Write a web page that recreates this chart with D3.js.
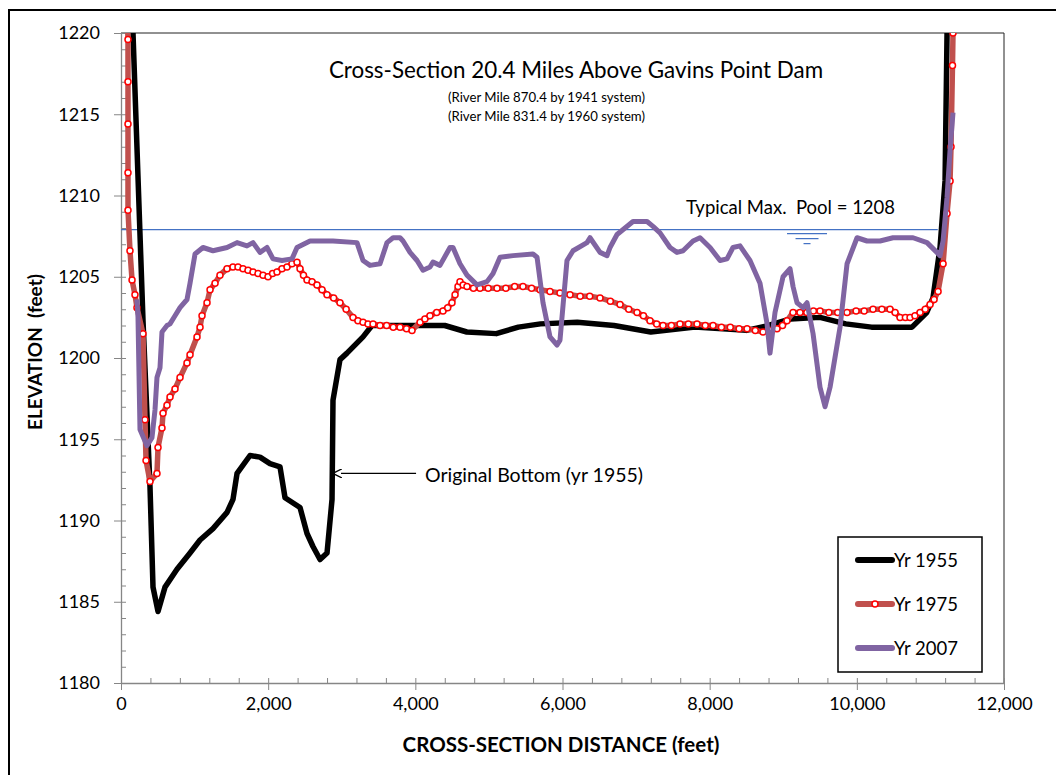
<!DOCTYPE html>
<html>
<head>
<meta charset="utf-8">
<script src="https://cdn.jsdelivr.net/npm/d3@7"></script>
<style>
  body { margin: 0; background: #fff; }
  text { font-family: Lato, "Open Sans", sans-serif; fill: #000; white-space: pre; }
</style>
</head>
<body>
<script>
// series (distance ft, elevation ft)
var yr1955 = [[100,1222],[163,1220],[299,1202.3],[394,1192.1],[435,1185.9],[503,1184.4],[598,1185.9],[761,1187.0],[938,1188.0],[1074,1188.8],[1250,1189.5],[1441,1190.5],[1522,1191.3],[1577,1192.9],[1753,1194.0],[1889,1193.9],[2025,1193.5],[2161,1193.3],[2229,1191.4],[2433,1190.8],[2528,1189.2],[2609,1188.4],[2705,1187.6],[2800,1188.0],[2868,1191.3],[2881,1197.4],[2976,1199.9],[3071,1200.3],[3289,1201.3],[3411,1202.0],[4400,1202.0],[4700,1201.6],[5100,1201.5],[5400,1201.9],[5700,1202.1],[6200,1202.2],[6700,1202.0],[7200,1201.6],[7800,1201.9],[8500,1201.7],[8800,1202.0],[9100,1202.4],[9500,1202.5],[9850,1202.1],[10200,1201.9],[10750,1201.9],[10950,1202.8],[11035,1203.7],[11131,1206.8],[11199,1210.9],[11226,1220],[11260,1225]];

var yr1975 = [[80,1222],[95,1219.6],[95,1217],[95,1214.4],[95,1211.4],[95,1209.1],[122,1206.6],[150,1204.8],[190,1203.9],[217,1203.1],[299,1201.5],[326,1196.2],[340,1193.7],[394,1192.4],[489,1192.9],[503,1194.5],[557,1195.7],[571,1196.6],[625,1197.1],[666,1197.6],[734,1198.1],[802,1198.8],[897,1199.7],[938,1200.2],[1033,1201.3],[1074,1201.9],[1101,1202.6],[1169,1203.4],[1210,1204.2],[1278,1204.6],[1345,1205.1],[1441,1205.5],[1522,1205.6],[1590,1205.6],[1658,1205.5],[1726,1205.4],[1794,1205.3],[1862,1205.2],[1930,1205.1],[1998,1205.0],[2060,1205.2],[2120,1205.3],[2188,1205.5],[2256,1205.6],[2324,1205.8],[2392,1205.9],[2433,1205.5],[2480,1205.1],[2528,1204.8],[2596,1204.7],[2664,1204.5],[2732,1204.2],[2800,1203.9],[2890,1203.7],[2976,1203.4],[3060,1203.0],[3153,1202.5],[3220,1202.3],[3289,1202.2],[3357,1202.1],[3425,1202.1],[3520,1202.0],[3610,1202.0],[3700,1201.9],[3792,1201.9],[3880,1201.8],[3955,1201.7],[4064,1202.2],[4130,1202.4],[4199,1202.6],[4290,1202.8],[4376,1202.9],[4440,1203.1],[4498,1203.4],[4540,1203.9],[4580,1204.4],[4607,1204.7],[4650,1204.5],[4702,1204.4],[4790,1204.3],[4879,1204.3],[4990,1204.3],[5110,1204.3],[5230,1204.3],[5350,1204.4],[5463,1204.4],[5580,1204.3],[5694,1204.2],[5830,1204.1],[5966,1204.0],[6102,1203.9],[6240,1203.8],[6370,1203.8],[6510,1203.7],[6650,1203.5],[6782,1203.3],[6900,1203.0],[7013,1202.8],[7100,1202.6],[7189,1202.3],[7280,1202.1],[7366,1202.0],[7480,1202.0],[7597,1202.1],[7710,1202.1],[7828,1202.1],[7940,1202.0],[8046,1202.0],[8160,1201.9],[8280,1201.9],[8400,1201.8],[8508,1201.8],[8620,1201.7],[8725,1201.6],[8830,1201.7],[8915,1201.8],[8990,1202.0],[9051,1202.3],[9133,1202.8],[9228,1202.8],[9320,1202.8],[9410,1202.9],[9500,1202.9],[9620,1202.8],[9740,1202.8],[9867,1202.8],[9990,1202.9],[10100,1202.9],[10220,1203.0],[10340,1203.0],[10451,1203.0],[10520,1202.8],[10587,1202.5],[10660,1202.5],[10723,1202.5],[10790,1202.6],[10859,1202.8],[10930,1203.0],[10995,1203.3],[11050,1203.6],[11104,1204.1],[11172,1205.8],[11226,1208.9],[11267,1210.9],[11280,1213],[11300,1218],[11307,1220],[11335,1222]];

var yr2007 = [[217,1203.6],[231,1202.5],[258,1195.6],[353,1194.6],[421,1195.1],[462,1196.8],[489,1198.8],[530,1199.4],[557,1201.6],[625,1202.0],[666,1202.1],[734,1202.6],[802,1203.1],[897,1203.6],[938,1204.6],[1006,1206.4],[1114,1206.8],[1250,1206.6],[1441,1206.8],[1577,1207.1],[1712,1206.9],[1794,1207.1],[1889,1206.5],[1984,1206.8],[2066,1206.1],[2188,1206.0],[2324,1206.1],[2392,1206.8],[2569,1207.2],[2881,1207.2],[3207,1207.1],[3289,1206.0],[3384,1205.7],[3520,1205.8],[3615,1207.1],[3697,1207.4],[3792,1207.4],[3833,1207.2],[3928,1206.5],[4023,1206.0],[4104,1205.4],[4199,1205.6],[4240,1205.9],[4335,1205.7],[4471,1206.8],[4512,1206.8],[4607,1205.8],[4702,1205.1],[4838,1204.5],[4974,1204.7],[5056,1205.2],[5151,1206.2],[5328,1206.3],[5599,1206.4],[5654,1206.2],[5735,1203.4],[5830,1201.3],[5926,1200.8],[5966,1201.1],[6061,1206.0],[6143,1206.6],[6333,1207.1],[6374,1207.4],[6510,1206.5],[6605,1206.3],[6646,1206.8],[6741,1207.6],[6958,1208.4],[7149,1208.4],[7230,1208.1],[7325,1207.7],[7461,1206.8],[7556,1206.5],[7638,1206.6],[7774,1207.2],[7869,1207.4],[8005,1206.8],[8141,1206.0],[8236,1206.1],[8317,1206.8],[8412,1206.9],[8548,1206.0],[8684,1204.6],[8780,1202.1],[8820,1200.3],[8888,1202.8],[8997,1205.0],[9092,1205.5],[9133,1204.4],[9187,1203.4],[9269,1203.1],[9323,1203.4],[9405,1201.5],[9500,1198.2],[9568,1197.0],[9636,1198.2],[9772,1201.9],[9867,1205.8],[10003,1207.4],[10139,1207.2],[10315,1207.2],[10492,1207.4],[10764,1207.4],[10954,1207.1],[11131,1206.3],[11172,1207.2],[11226,1209.9],[11267,1212.8],[11307,1215.1]];

var poolLine = [[0,1207.9],[11100,1207.9]];

var xTicks = [0,2000,4000,6000,8000,10000,12000];
var yTicks = [1180,1185,1190,1195,1200,1205,1210,1215,1220];
var legendNames = ["Yr 1955","Yr 1975","Yr 2007"];
var legendColors = ["#000000","#c0504d","#8064a2"];

//Width and height
var w = 1056;
var h = 775;

var x = d3.scaleLinear().domain([0,12000]).range([121,1004]);
var y = d3.scaleLinear().domain([1180,1220]).range([683,33]);

var svg = d3.select("body").append("svg")
            .attr("width", w)
            .attr("height", h);

//outer frame
svg.append("rect")
   .attr("x", 9).attr("y", 10)
   .attr("width", 1200).attr("height", 900)
   .attr("fill", "none").attr("stroke", "#000").attr("stroke-width", 2);

svg.append("defs").append("clipPath").attr("id", "plot")
   .append("rect")
   .attr("x", x(0)).attr("y", y(1220))
   .attr("width", x(12000) - x(0)).attr("height", y(1180) - y(1220));

//plot area border top / right
svg.append("path")
   .attr("d", "M" + x(0) + "," + y(1220) + "H" + x(12000) + "V" + y(1180))
   .attr("fill", "none").attr("stroke", "#222").attr("stroke-width", 1);

//minor ticks (inside)
var xMinor = d3.range(0, 12001, 400);
var yMinor = d3.range(1180, 1221, 1);

svg.append("g")
   .attr("transform", "translate(0," + y(1180) + ")")
   .call(d3.axisTop(x).tickValues(xMinor).tickSize(5).tickFormat(""))
   .call(function(g) { g.select(".domain").remove(); g.selectAll("line").attr("stroke", "#868686"); });

svg.append("g")
   .attr("transform", "translate(" + x(0) + ",0)")
   .call(d3.axisRight(y).tickValues(yMinor).tickSize(5).tickFormat(""))
   .call(function(g) { g.select(".domain").remove(); g.selectAll("line").attr("stroke", "#868686"); });

//major axes
var xAxis = svg.append("g")
   .attr("transform", "translate(0," + y(1180) + ")")
   .call(d3.axisBottom(x).tickValues(xTicks).tickSize(7).tickSizeOuter(0).tickPadding(7).tickFormat(d3.format(",")));

var yAxis = svg.append("g")
   .attr("transform", "translate(" + x(0) + ",0)")
   .call(d3.axisLeft(y).tickValues(yTicks).tickSize(7).tickSizeOuter(0).tickPadding(14).tickFormat(d3.format("d")));

[xAxis, yAxis].forEach(function(g) {
    g.select(".domain").attr("stroke", "#868686").attr("stroke-width", 1.3);
    g.selectAll("line").attr("stroke", "#868686");
    g.selectAll("text").style("font-size", "18px").attr("fill", "#000");
});

//axis titles
svg.append("text")
   .attr("x", 561).attr("y", 752)
   .attr("text-anchor", "middle")
   .style("font-size", "20.5px").style("font-weight", "bold")
   .text("CROSS-SECTION DISTANCE (feet)");

svg.append("text")
   .attr("transform", "translate(42,352) rotate(-90)")
   .attr("text-anchor", "middle")
   .style("font-size", "19px").style("font-weight", "bold")
   .text("ELEVATION  (feet)");

//titles
svg.append("text")
   .attr("x", 576).attr("y", 78)
   .attr("text-anchor", "middle")
   .style("font-size", "22.4px")
   .text("Cross-Section 20.4 Miles Above Gavins Point Dam");

svg.append("text")
   .attr("x", 448).attr("y", 102)
   .style("font-size", "13.2px")
   .text("(River Mile 870.4 by 1941 system)");

svg.append("text")
   .attr("x", 448).attr("y", 121)
   .style("font-size", "13.2px")
   .text("(River Mile 831.4 by 1960 system)");

var line = d3.line()
    .x(function(d) { return x(d[0]); })
    .y(function(d) { return y(d[1]); });

var plot = svg.append("g").attr("clip-path", "url(#plot)");

//pool line
plot.append("path")
    .datum(poolLine)
    .attr("d", line)
    .attr("fill", "none").attr("stroke", "#4472c4").attr("stroke-width", 1.2);

//water symbol
var wx = x(9323), wy = y(1207.9);
[[20, 4], [11.5, 9], [3.5, 14]].forEach(function(s) {
    svg.append("line")
       .attr("x1", wx - s[0]).attr("x2", wx + s[0])
       .attr("y1", wy + s[1]).attr("y2", wy + s[1])
       .attr("stroke", "#4472c4").attr("stroke-width", 1.2);
});

svg.append("text")
   .attr("x", x(7679)).attr("y", y(1208.85))
   .style("font-size", "18.5px")
   .text("Typical Max.  Pool = 1208");

//series
plot.append("path")
    .datum(yr1955)
    .attr("d", line)
    .attr("fill", "none").attr("stroke", "#000")
    .attr("stroke-width", 5.5).attr("stroke-linejoin", "round");

plot.append("path")
    .datum(yr1975)
    .attr("d", line)
    .attr("fill", "none").attr("stroke", "#c0504d")
    .attr("stroke-width", 5.5).attr("stroke-linejoin", "round");

plot.selectAll("circle.m75")
    .data(yr1975)
    .enter()
    .append("circle")
    .attr("class", "m75")
    .attr("cx", function(d) { return x(d[0]); })
    .attr("cy", function(d) { return y(d[1]); })
    .attr("r", 3)
    .attr("fill", "#fff").attr("stroke", "#ff0000").attr("stroke-width", 1.5);

plot.append("path")
    .datum(yr2007)
    .attr("d", line)
    .attr("fill", "none").attr("stroke", "#8064a2")
    .attr("stroke-width", 5).attr("stroke-linejoin", "round");

//annotation arrow
svg.append("defs").append("marker")
   .attr("id", "arrow")
   .attr("viewBox", "0 0 10 10")
   .attr("refX", 1).attr("refY", 5)
   .attr("markerWidth", 7).attr("markerHeight", 7)
   .attr("orient", "auto-start-reverse")
   .append("path")
   .attr("d", "M0,0L10,5L0,10")
   .attr("fill", "none").attr("stroke", "#000").attr("stroke-width", 1.5);

svg.append("line")
   .attr("x1", x(4010)).attr("y1", y(1192.9))
   .attr("x2", x(2990)).attr("y2", y(1192.9))
   .attr("stroke", "#000").attr("stroke-width", 1.3)
   .attr("marker-end", "url(#arrow)");

svg.append("text")
   .attr("x", x(4131)).attr("y", y(1192.4))
   .style("font-size", "19.5px")
   .text("Original Bottom (yr 1955)");

//legend
var legend = svg.append("g").attr("transform", "translate(838,537)");

legend.append("rect")
   .attr("width", 144).attr("height", 135)
   .attr("fill", "#fff").attr("stroke", "#000").attr("stroke-width", 1.5);

var item = legend.selectAll("g.item")
   .data(legendNames)
   .enter()
   .append("g")
   .attr("class", "item")
   .attr("transform", function(d, i) { return "translate(0," + (23 + i * 44) + ")"; });

item.append("line")
    .attr("x1", 20).attr("x2", 54)
    .attr("stroke", function(d, i) { return legendColors[i]; })
    .attr("stroke-width", 6).attr("stroke-linecap", "round");

item.filter(function(d, i) { return i == 1; })
    .append("circle")
    .attr("cx", 37).attr("r", 3)
    .attr("fill", "#fff").attr("stroke", "#ff0000").attr("stroke-width", 1.5);

item.append("text")
    .attr("x", 56).attr("y", 7)
    .style("font-size", "18.5px")
    .text(function(d) { return d; });
</script>
</body>
</html>
